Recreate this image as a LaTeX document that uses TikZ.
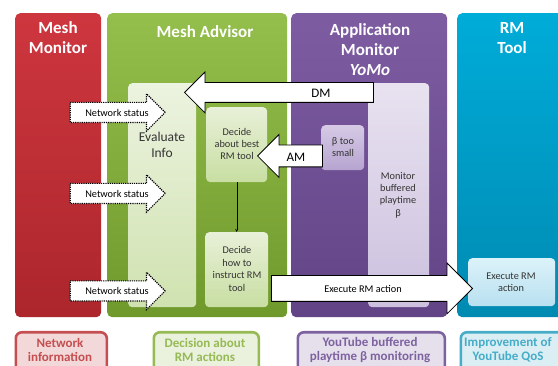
\documentclass[tikz,border=0pt]{standalone}
\usepackage{fontspec}
\setmainfont{Carlito}
\usetikzlibrary{shapes.arrows}
\tikzset{>=stealth}

\definecolor{redtop}{RGB}{206,54,62}
\definecolor{redbot}{RGB}{172,38,44}
\definecolor{greentop}{RGB}{148,191,76}
\definecolor{greenbot}{RGB}{112,153,44}
\definecolor{purpletop}{RGB}{126,92,162}
\definecolor{purplebot}{RGB}{98,68,134}
\definecolor{cyantop}{RGB}{0,172,216}
\definecolor{cyanbot}{RGB}{0,138,178}
\definecolor{capred}{RGB}{196,78,80}
\definecolor{capgreen}{RGB}{150,186,84}
\definecolor{cappurple}{RGB}{126,98,160}
\definecolor{capcyan}{RGB}{70,172,200}

\tikzset{
  panel/.style={rounded corners=5pt, anchor=north west, inner sep=0pt},
  heading/.style={text=white, align=center, font=\fontsize{17}{20}\selectfont\bfseries},
  innerbox/.style={rounded corners=4pt, anchor=north west, inner sep=0pt},
  boxtext/.style={align=center, text=black!80, font=\fontsize{10.3}{12.4}\selectfont},
  bigarrow/.style={single arrow, draw=black, fill=white, line width=0.8pt, inner sep=0pt,
    minimum width=0pt, text depth=0pt, anchor=tip},
  netarrow/.style={bigarrow, line width=1.2pt, densely dotted, minimum height=95pt,
    text height=19pt, single arrow head extend=8.5pt},
  captionbox/.style={rounded corners=6pt, line width=2.6pt, anchor=north west, inner sep=0pt},
  captiontext/.style={align=center, font=\fontsize{13}{14}\selectfont\bfseries}
}

\begin{document}
\begin{tikzpicture}[x=1pt, y=-1pt]
  \clip (0,0) rectangle (558,366);
  \fill[white] (0,0) rectangle (558,366);

  % columns
  \node[panel, top color=redtop, bottom color=redbot, minimum width=86pt, minimum height=304pt] (meshmon) at (15,13) {};
  \node[panel, top color=greentop, bottom color=greenbot, minimum width=180pt, minimum height=304pt] (advisor) at (107,13) {};
  \node[panel, top color=purpletop, bottom color=purplebot, minimum width=156pt, minimum height=304pt] (appmon) at (291,13) {};
  \node[panel, top color=cyantop, bottom color=cyanbot, minimum width=115pt, minimum height=304pt] (rmtool) at (457,13) {};

  \node[heading] (meshmonT) at (58,38) {Mesh\\Monitor};
  \node[heading] (advisorT) at (205,32) {Mesh Advisor};
  \node[heading] (appmonT) at (370,50) {Application\\Monitor\\\textit{YoMo}};
  \node[heading] (rmtoolT) at (512,38) {RM\\Tool};

  % boxes inside the columns
  \node[innerbox, top color={rgb,255:red,236;green,243;blue,224}, bottom color={rgb,255:red,208;green,226;blue,176}, minimum width=68pt, minimum height=224pt] (evalbox) at (128,83) {};
  \node[boxtext, font=\fontsize{13.5}{16}\selectfont] (evaltext) at (162,145) {Evaluate\\Info};
  \node[innerbox, top color={rgb,255:red,232;green,240;blue,216}, bottom color={rgb,255:red,200;green,222;blue,162}, minimum width=61pt, minimum height=75pt] (bestbox) at (206,107) {};
  \node[boxtext] (besttext) at (237,144) {Decide\\about best\\RM tool};
  \node[innerbox, top color={rgb,255:red,232;green,240;blue,216}, bottom color={rgb,255:red,200;green,222;blue,162}, minimum width=63pt, minimum height=75pt] (howbox) at (205,232) {};
  \node[boxtext] (howtext) at (237,269) {Decide\\how to\\instruct RM\\tool};
  \draw[->, thin] (bestbox) -- (howbox);

  \node[innerbox, top color={rgb,255:red,232;green,226;blue,240}, bottom color={rgb,255:red,204;green,192;blue,222}, minimum width=61pt, minimum height=224pt] (monbox) at (368,83) {};
  \node[boxtext] (montext) at (398,195) {Monitor\\buffered\\playtime\\β};
  \node[innerbox, top color={rgb,255:red,214;green,202;blue,230}, bottom color={rgb,255:red,182;green,164;blue,208}, minimum width=43pt, minimum height=45pt] (betabox) at (321,125) {};
  \node[boxtext] (betatext) at (343,147) {β too\\small};

  \node[innerbox, top color={rgb,255:red,220;green,242;blue,249}, bottom color={rgb,255:red,184;green,224;blue,240}, minimum width=87pt, minimum height=48pt] (execbox) at (468,258) {};
  \node[boxtext] (exectext) at (511,282) {Execute RM\\action};

  % big arrows
  \node[bigarrow, shape border rotate=180, minimum height=189pt, text height=19pt, single arrow head extend=10.5pt] (dm) at (184,92.5) {};
  \node[font=\fontsize{13}{14}\selectfont] (dmtext) at (321,93) {DM};
  \node[bigarrow, shape border rotate=180, minimum height=65pt, text height=21pt, single arrow head extend=10.5pt] (am) at (257,156) {};
  \node[font=\fontsize{13}{14}\selectfont] (amtext) at (296,157) {AM};
  \node[bigarrow, minimum height=201pt, text height=25pt, single arrow head extend=12.5pt] (exec) at (473,288.5) {};
  \node[font=\fontsize{10.3}{12}\selectfont] (exectextarrow) at (363,289) {Execute RM action};

  % network status arrows
  \foreach \y [count=\i] in {112.5,193.5,291} {
    \node[netarrow] (net\i) at (166,\y) {};
    \node[font=\fontsize{10.3}{11}\selectfont] (net\i text) at (117,\y) {Network status};
  }

  % captions
  \node[captionbox, draw=capred, fill=capred!22!white, minimum width=91pt, minimum height=50pt] (capmm) at (14.5,331) {};
  \node[captiontext, text=capred] (capmmT) at (60,350) {Network\\information};
  \node[captionbox, draw=capgreen, fill=capgreen!20!white, minimum width=105pt, minimum height=50pt] (capadv) at (152.5,331) {};
  \node[captiontext, text=capgreen] (capadvT) at (205,350) {Decision about\\RM actions};
  \node[captionbox, draw=cappurple, fill=cappurple!20!white, minimum width=147pt, minimum height=50pt] (capapp) at (296.5,331) {};
  \node[captiontext, text=cappurple] (capappT) at (370,350) {YouTube buffered\\playtime β monitoring};
  \node[captionbox, draw=capcyan, fill=capcyan!20!white, minimum width=120pt, minimum height=50pt] (caprm) at (459.5,331) {};
  \node[captiontext, text=capcyan] (caprmT) at (508,350) {Improvement of\\YouTube QoS};
\end{tikzpicture}
\end{document}
